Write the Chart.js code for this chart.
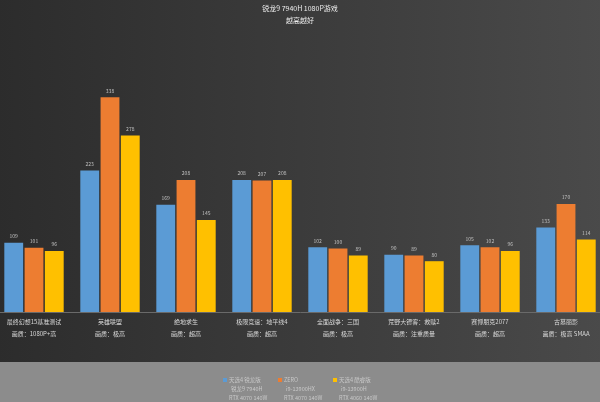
<!DOCTYPE html>
<html>
<head>
<meta charset="utf-8">
<script src="https://cdn.jsdelivr.net/npm/chart.js@4.4.0/dist/chart.umd.min.js"></script>
<style>
html,body{margin:0;padding:0;background:#3a3a3a;overflow:hidden;width:600px;height:402px;}
#c{position:absolute;left:-4px;top:0;}
</style>
</head>
<body>
<canvas id="c" width="608" height="402"></canvas>
<script>
const titleText = "锐龙9 7940H 1080P游戏";
const subtitleText = "越高越好";
const games = ["最终幻想15基准测试","英雄联盟","绝地求生","极限竞速：地平线4","全面战争：三国","荒野大镖客：救赎2","赛博朋克2077","古墓丽影"];
const quality = ["画质：1080P+高","画质：极高","画质：超高","画质：超高","画质：极高","画质：注重质量","画质：超高","画质：极高 SMAA"];
const seriesNames = ["天选4 锐龙版","ZERO","天选4 酷睿版"];
const seriesCpu = ["锐龙9 7940H","i9-13900HX","i9-13900H"];
const seriesGpu = ["RTX 4070 140W","RTX 4070 140W","RTX 4060 140W"];
const ryzen = [109,223,169,208,102,90,105,133];
const zero = [101,338,208,207,100,89,102,170];
const intel = [96,278,145,208,89,80,96,114];
const colors = ["#5b9bd5","#ed7d31","#ffc000"];

const FONT = "'Noto Sans CJK SC','Noto Sans',sans-serif";

const bgPlugin = {
  id:'bg',
  beforeDraw(chart){
    const ctx = chart.ctx, w = chart.width, h = chart.height;
    ctx.save();
    const g = ctx.createLinearGradient(0,0,w,0);
    g.addColorStop(0,'#2c2c2c');
    g.addColorStop(0.5,'#3b3b3b');
    g.addColorStop(1,'#4a4a4a');
    ctx.fillStyle = g;
    ctx.fillRect(0,0,w,h);
    ctx.fillStyle = '#8c8c8c';
    ctx.fillRect(0,362,w,h-362);
    ctx.restore();
  }
};

const overlayPlugin = {
  id:'overlay',
  afterDraw(chart){
    const ctx = chart.ctx;
    ctx.save();
    ctx.textAlign='center';
    ctx.textBaseline='middle';
    ctx.fillStyle='#eeeeee';
    ctx.font = "7px " + FONT;
    ctx.fillText(titleText, 304, 8);
    ctx.font = "7px " + FONT;
    ctx.fillText(subtitleText, 304, 20);
    ctx.font = "5px " + FONT;
    ctx.fillStyle = '#c0c0c0';
    ctx.textBaseline='bottom';
    chart.data.datasets.forEach((ds,i)=>{
      const meta = chart.getDatasetMeta(i);
      meta.data.forEach((bar,j)=>{
        ctx.fillText(String(ds.data[j]), bar.x, bar.y - 4);
      });
    });
    const lx = [227,282,337];
    ctx.textAlign='left';
    ctx.textBaseline='middle';
    for(let i=0;i<3;i++){
      ctx.fillStyle = colors[i];
      ctx.fillRect(lx[i], 378, 4, 4);
      ctx.fillStyle = '#c8c8c8';
      ctx.font = "5.5px " + FONT;
      ctx.fillText(seriesNames[i], lx[i]+6, 380);
      ctx.fillText(seriesCpu[i], lx[i]+8, 389);
      ctx.fillText(seriesGpu[i], lx[i]+6, 398);
    }
    ctx.restore();
  }
};

new Chart(document.getElementById('c'), {
  type:'bar',
  data:{
    labels: games.map((g,i)=>[g, quality[i]]),
    datasets:[
      {label:seriesNames[0], data:ryzen, backgroundColor:colors[0]},
      {label:seriesNames[1], data:zero, backgroundColor:colors[1]},
      {label:seriesNames[2], data:intel, backgroundColor:colors[2]}
    ]
  },
  options:{
    responsive:false,
    animation:false,
    devicePixelRatio:1,
    layout:{padding:{top:58,left:0,right:0,bottom:0}},
    datasets:{bar:{categoryPercentage:0.8,barPercentage:0.93}},
    plugins:{legend:{display:false},tooltip:{enabled:false},title:{display:false}},
    scales:{
      y:{display:false,min:0,max:400},
      x:{
        grid:{display:false,drawTicks:false},
        border:{display:true,color:'#6a6a6a',width:1},
        ticks:{color:'#d8d8d8',font:{family:FONT,size:6,lineHeight:2},padding:4,maxRotation:0,autoSkip:false},
        afterFit(scale){ scale.height = 90; }
      }
    }
  },
  plugins:[bgPlugin, overlayPlugin]
});
</script>
</body>
</html>
